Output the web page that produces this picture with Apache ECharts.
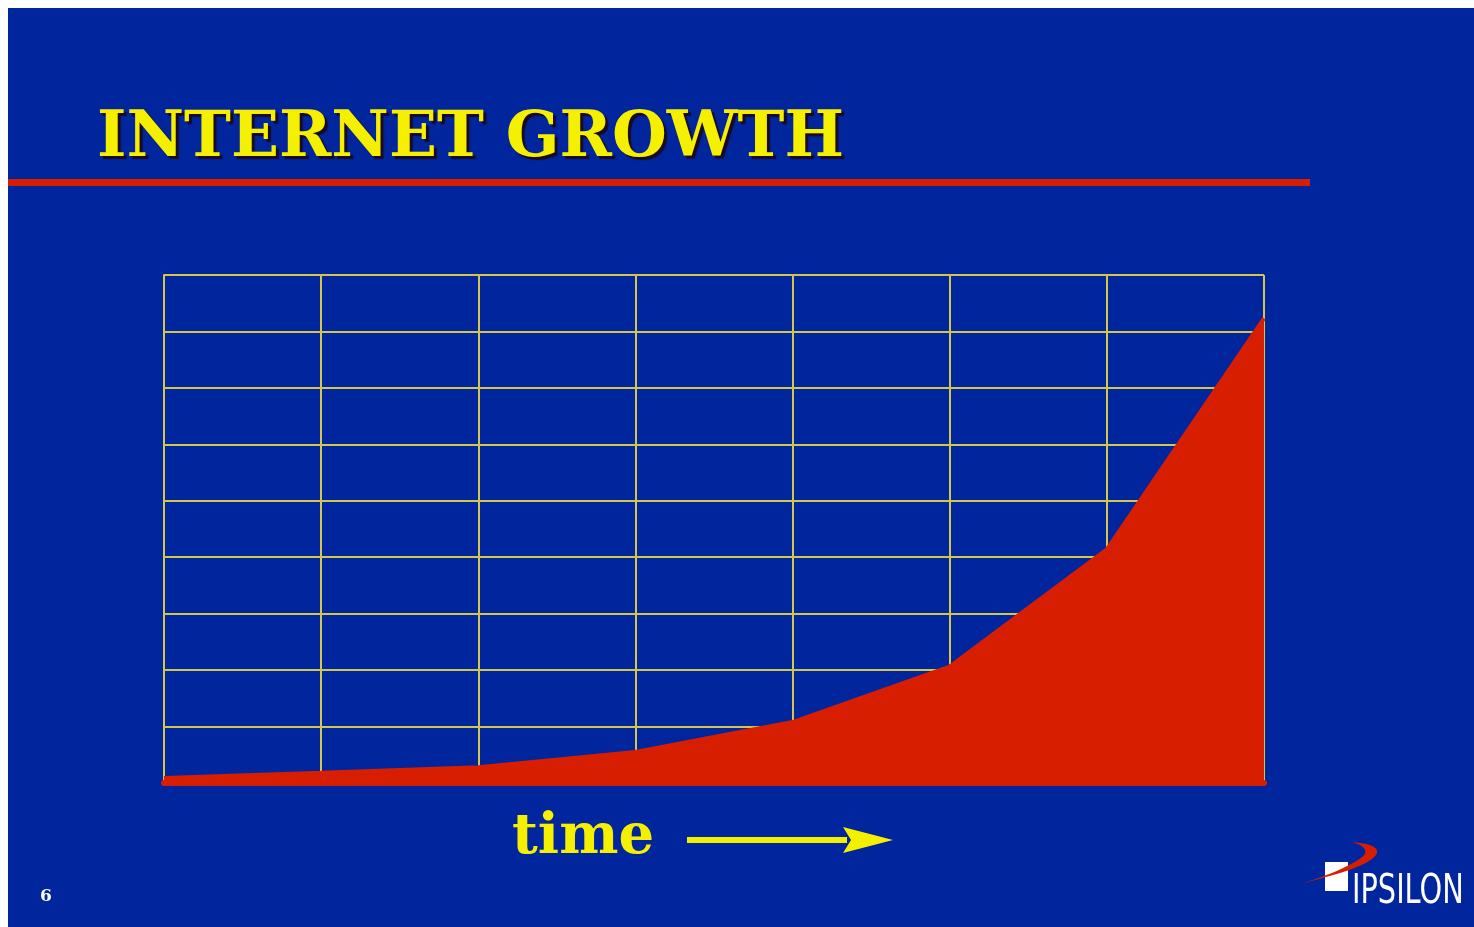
<!DOCTYPE html>
<html><head><meta charset="utf-8">
<script src="https://cdn.jsdelivr.net/npm/echarts@6/dist/echarts.min.js"></script>
<style>html,body{margin:0;padding:0;background:#fff;}#c{width:1474px;height:927px;}</style>
</head><body><div id="c"></div>
<script>
const titleText = 'INTERNET GROWTH';
const axisLabel = 'time';
const pageNumber = '6';
const periods = [0, 1, 2, 3, 4, 5, 6, 7];
const growth = [0.09, 0.18, 0.28, 0.55, 1.08, 2.06, 4.14, 8.23];

const BLUE = '#00259c', RED = '#d81e00', YEL = '#f5ef00', GRID = '#d2c64c';

function bez(p0, p1, p2, p3, n) {
  const pts = [];
  for (let i = 0; i <= n; i++) {
    const t = i / n, u = 1 - t;
    pts.push([u*u*u*p0[0] + 3*u*u*t*p1[0] + 3*u*t*t*p2[0] + t*t*t*p3[0],
              u*u*u*p0[1] + 3*u*u*t*p1[1] + 3*u*t*t*p2[1] + t*t*t*p3[1]]);
  }
  return pts;
}
const swoosh = [].concat(
  bez([1300,884],[1330,876],[1372,866],[1377,853],12),
  bez([1377,853],[1379,846],[1366,843],[1352,842],8),
  bez([1352,842],[1366,846],[1369,852],[1361,858],8),
  bez([1361,858],[1345,869],[1320,878],[1300,884],12)
);

const chart = echarts.init(document.getElementById('c'));
chart.setOption({
  backgroundColor: '#ffffff',
  animation: false,
  grid: { left: 164, top: 275, width: 1100, height: 508 },
  xAxis: {
    type: 'value', min: 0, max: 7, interval: 1,
    axisLine: { show: true, lineStyle: { color: RED, width: 6 } },
    axisTick: { show: false }, axisLabel: { show: false },
    splitLine: { show: true, lineStyle: { color: GRID, width: 2 } }
  },
  yAxis: {
    type: 'value', min: 0, max: 9, interval: 1,
    axisLine: { show: true, lineStyle: { color: GRID, width: 2 } },
    axisTick: { show: false }, axisLabel: { show: false },
    splitLine: { show: true, lineStyle: { color: GRID, width: 2 } }
  },
  series: [{
    type: 'line', symbol: 'none', z: 5,
    data: periods.map((p, i) => [p, growth[i]]),
    lineStyle: { color: RED, width: 4 },
    areaStyle: { color: RED, opacity: 1 }
  }],
  graphic: [
    { type: 'rect', z: -10, silent: true, shape: { x: 8, y: 8, width: 1466, height: 919 }, style: { fill: BLUE } },
    { type: 'rect', z: 1, shape: { x: 8, y: 179, width: 1302, height: 7 }, style: { fill: RED } },
    { type: 'text', z: 10, style: { text: titleText, x: 97, y: 171, textVerticalAlign: 'bottom',
        font: 'bold 63px "DejaVu Serif"', fill: YEL,
        textShadowColor: '#1a0a20', textShadowOffsetX: 3, textShadowOffsetY: 3, textShadowBlur: 1 } },
    { type: 'text', z: 10, style: { text: axisLabel, x: 512, y: 866, textVerticalAlign: 'bottom',
        font: 'bold 56px "DejaVu Serif"', fill: YEL } },
    { type: 'rect', z: 10, shape: { x: 687, y: 837, width: 160, height: 6 }, style: { fill: YEL } },
    { type: 'polygon', z: 10, shape: { points: [[843, 827], [893, 840], [843, 853], [851, 840]] }, style: { fill: YEL } },
    { type: 'text', z: 10, style: { text: pageNumber, x: 40, y: 888, font: 'bold 17px "DejaVu Serif"', fill: '#ffffff' } },
    { type: 'rect', z: 10, shape: { x: 1325, y: 862, width: 23, height: 29 }, style: { fill: '#ffffff' } },
    { type: 'polygon', z: 11, shape: { points: swoosh }, style: { fill: RED } },
    { type: 'text', z: 10, scaleX: 0.8, x: 1352, y: 913, originX: 0, originY: 0,
      style: { text: 'IPSILON', x: 0, y: 0, textVerticalAlign: 'bottom', font: '40px "DejaVu Sans Condensed", "DejaVu Sans"', fill: '#ffffff' } }
  ]
});
</script></body></html>
